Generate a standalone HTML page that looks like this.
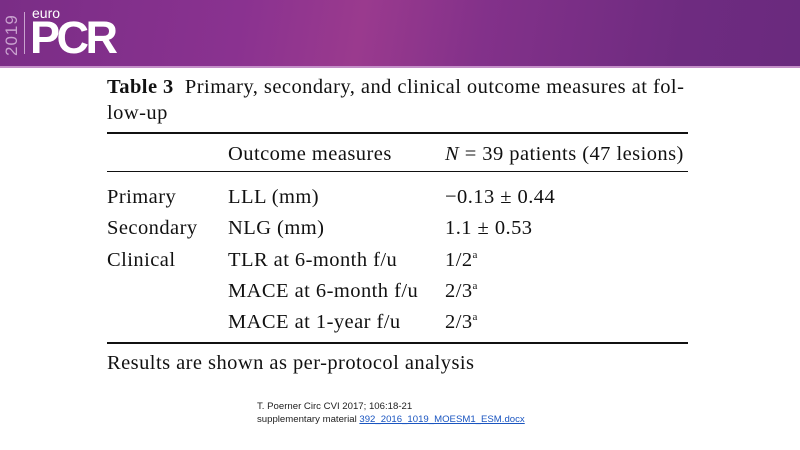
<!DOCTYPE html>
<html><head><style>
body{margin:0;width:800px;height:450px;background:#fff;position:relative;overflow:hidden;font-family:"Liberation Serif",serif;color:#111}
.hdr{position:absolute;left:0;top:0;width:800px;height:66px;background:linear-gradient(100deg,#7a2d86 0%,#8a3290 30%,#9a3a8e 45%,#83318a 60%,#6e2b80 85%,#6a2a7e 100%);border-bottom:2px solid #c48fc8;overflow:hidden}
.t{position:absolute;white-space:nowrap;font-size:20.5px;letter-spacing:0.45px}
.rule{position:absolute;left:107px;width:581px;background:#111}
.s{position:absolute;font-family:"Liberation Sans",sans-serif;font-size:9.6px;color:#222;white-space:nowrap}
sup{font-size:11px}
</style></head><body>
<div class="hdr">
<div style="position:absolute;left:3px;top:56px;transform:rotate(-90deg);transform-origin:0 0;color:#c9a2cf;font-family:'Liberation Sans',sans-serif;font-size:17px;line-height:17px;letter-spacing:1px">2019</div>
<div style="position:absolute;left:24px;top:12px;width:1px;height:42px;background:#c9a2cf"></div>
<div style="position:absolute;left:32px;top:5px;color:#fff;font-family:'Liberation Sans',sans-serif;font-size:14px">euro</div>
<div style="position:absolute;left:30px;top:16px;color:#fff;font-family:'Liberation Sans',sans-serif;font-size:45px;font-weight:bold;letter-spacing:-3.5px;line-height:44px">PCR</div>
</div>
<div class="t" style="left:107px;top:76px"><b>Table 3</b>&nbsp; Primary, secondary, and clinical outcome measures at fol-</div>
<div class="t" style="left:107px;top:102px">low-up</div>
<div class="rule" style="top:132px;height:2px"></div>
<div class="t" style="left:228px;top:143px">Outcome measures</div>
<div class="t" style="left:445px;top:143px"><i>N</i> = 39 patients (47 lesions)</div>
<div class="rule" style="top:171px;height:1px"></div>
<div class="t" style="left:107px;top:186px">Primary</div><div class="t" style="left:228px;top:186px">LLL (mm)</div><div class="t" style="left:445px;top:186px">−0.13 ± 0.44</div>
<div class="t" style="left:107px;top:217px">Secondary</div><div class="t" style="left:228px;top:217px">NLG (mm)</div><div class="t" style="left:445px;top:217px">1.1 ± 0.53</div>
<div class="t" style="left:107px;top:249px">Clinical</div><div class="t" style="left:228px;top:249px">TLR at 6-month f/u</div><div class="t" style="left:445px;top:249px">1/2<sup>a</sup></div>
<div class="t" style="left:228px;top:280px">MACE at 6-month f/u</div><div class="t" style="left:445px;top:280px">2/3<sup>a</sup></div>
<div class="t" style="left:228px;top:311px">MACE at 1-year f/u</div><div class="t" style="left:445px;top:311px">2/3<sup>a</sup></div>
<div class="rule" style="top:342px;height:2px"></div>
<div class="t" style="left:107px;top:352px">Results are shown as per-protocol analysis</div>
<div class="s" style="left:257px;top:401px">T. Poerner Circ CVI 2017; 106:18-21</div>
<div class="s" style="left:257px;top:414px">supplementary material <span style="color:#1a55c0;text-decoration:underline">392_2016_1019_MOESM1_ESM.docx</span></div>
</body></html>
